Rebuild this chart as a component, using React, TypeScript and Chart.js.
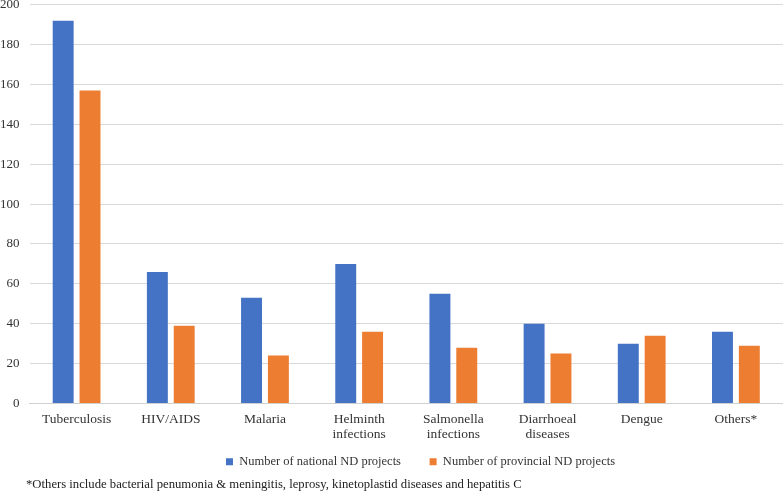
import React, { useEffect, useRef } from "react";
import { Chart, registerables } from "chart.js";

Chart.register(...registerables);

const categories: (string | string[])[] = [
  "Tuberculosis",
  "HIV/AIDS",
  "Malaria",
  ["Helminth", "infections"],
  ["Salmonella", "infections"],
  ["Diarrhoeal", "diseases"],
  "Dengue",
  "Others*",
];
const nationalProjects = [192, 66, 53, 70, 55, 40, 30, 36];
const provincialProjects = [157, 39, 24, 36, 28, 25, 34, 29];
const seriesNames = ["Number of national ND projects", "Number of provincial ND projects"];
const footnote = "*Others include bacterial penumonia & meningitis, leprosy, kinetoplastid diseases and hepatitis C";

const FONT = "Liberation Serif";

const legendShift = {
  id: "legendShift",
  afterLayout(chart: any) {
    if (chart.legend) {
      chart.legend.left += 34;
      chart.legend.right += 34;
    }
  },
};

export default function App() {
  const ref = useRef<HTMLCanvasElement | null>(null);
  useEffect(() => {
    if (!ref.current) return;
    const chart = new Chart(ref.current, {
      type: "bar",
      data: {
        labels: categories,
        datasets: [
          {
            label: seriesNames[0],
            data: nationalProjects,
            backgroundColor: "#4472C4",
            categoryPercentage: 0.57,
            barPercentage: 0.78,
          },
          {
            label: seriesNames[1],
            data: provincialProjects,
            backgroundColor: "#ED7D31",
            categoryPercentage: 0.57,
            barPercentage: 0.78,
          },
        ],
      },
      options: {
        animation: false,
        responsive: false,
        maintainAspectRatio: false,
        layout: { padding: 0 },
        plugins: {
          tooltip: { enabled: false },
          legend: {
            position: "bottom",
            labels: {
              boxWidth: 7,
              boxHeight: 7,
              padding: 13,
              color: "#333333",
              font: { family: FONT, size: 12.5 },
              generateLabels: (c: any) => {
                const items = Chart.defaults.plugins.legend.labels.generateLabels(c);
                return items.map((it: any, i: number) =>
                  i < items.length - 1 ? { ...it, text: it.text + "     " } : it
                );
              },
            },
          },
        },
        scales: {
          x: {
            grid: { display: false },
            border: { display: true, color: "#d0d0d0" },
            ticks: {
              color: "#333333",
              font: { family: FONT, size: 13.5, lineHeight: 1.15 },
              padding: 0,
              maxRotation: 0,
            },
          },
          y: {
            min: 0,
            max: 200,
            ticks: { stepSize: 20, color: "#333333", font: { family: FONT, size: 13 }, padding: 10 },
            grid: { color: "#d9d9d9", drawTicks: false },
            border: { display: false },
          },
        },
      },
      plugins: [legendShift],
    });
    return () => chart.destroy();
  }, []);
  return (
    <div style={{ position: "absolute", left: 0, top: 0, width: 783, height: 497, background: "#fff", overflow: "hidden" }}>
      <canvas
        ref={ref}
        width={793}
        height={491}
        style={{ display: "block", position: "absolute", left: -10, top: -13 }}
      />
      <div
        style={{
          position: "absolute",
          left: 26,
          top: 477,
          fontFamily: "'Liberation Serif', serif",
          fontSize: 12.7,
          color: "#222",
          whiteSpace: "nowrap",
        }}
      >
        {footnote}
      </div>
    </div>
  );
}
